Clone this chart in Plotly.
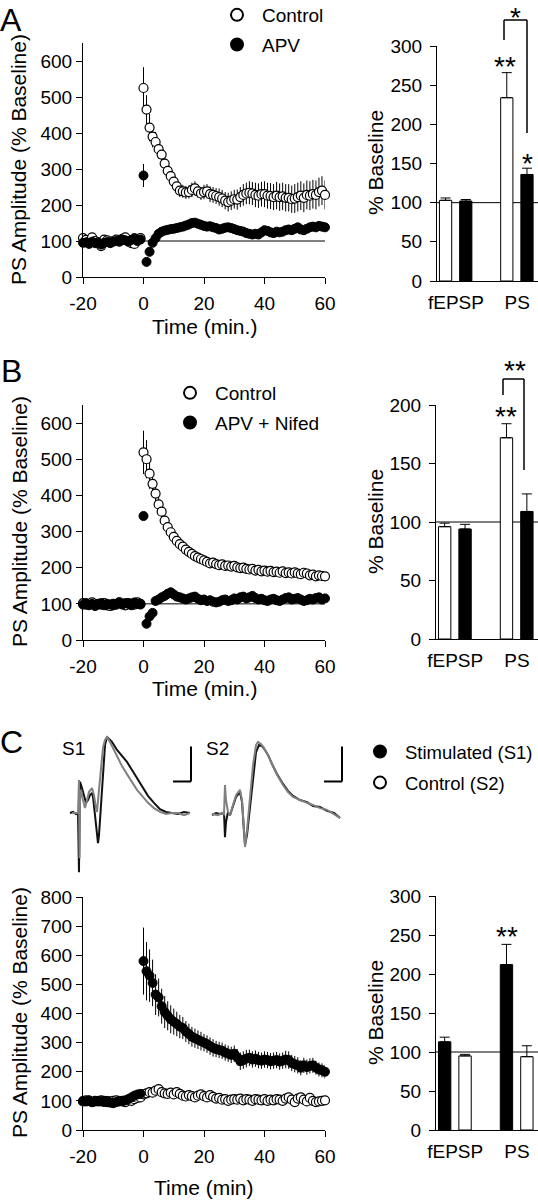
import plotly.graph_objects as go

FONT = "Liberation Sans, Arial, Helvetica, sans-serif"
W, H = 538, 1200

# ---------------- data ----------------
time_min = list(range(-20, 61))  # sample times (min)
time_ticks = [-20, 0, 20, 40, 60]
time_ticktext = ["-20", "0", "20", "40", "60"]

# Panel A: PS amplitude (% baseline)
a_control = [108, 103, 98, 110, 100, 96, 86, 104, 102, 96, 100, 104, 98, 106, 110, 100, 94, 92, 104, 108,
             525, 465, 415, 390, 375, 355, 340, 315, 295, 280, 265, 252, 240, 238, 235, 236, 242, 246, 238, 232,
             236, 238, 230, 228, 225, 222, 218, 212, 208, 212, 216, 215, 222, 228, 232, 234, 232, 228, 226, 230,
             230, 226, 225, 222, 226, 222, 224, 220, 220, 216, 218, 222, 226, 220, 228, 226, 230, 228, 236, 240, 228]
a_control_err = [6, 5, 7, 6, 5, 6, 8, 6, 5, 6, 7, 6, 5, 6, 7, 6, 5, 6, 7, 6,
                 58, 40, 38, 30, 28, 26, 25, 24, 22, 22, 20, 20, 18, 18, 18, 18, 20, 20, 18, 18,
                 20, 20, 22, 22, 22, 24, 24, 24, 26, 26, 26, 28, 28, 30, 30, 32, 32, 34, 34, 34,
                 36, 36, 36, 36, 38, 38, 38, 38, 38, 38, 40, 40, 40, 40, 40, 40, 40, 40, 40, 40, 40]
a_apv = [95, 96, 92, 98, 94, 96, 90, 95, 97, 94, 98, 100, 99, 104, 102, 98, 103, 108, 100, 104,
         282, 42, 70, 95, 108, 120, 126, 129, 131, 133, 134, 136, 138, 140, 143, 146, 150, 151, 148, 145,
         142, 140, 141, 138, 136, 132, 134, 137, 138, 136, 133, 130, 128, 126, 122, 120, 118, 120, 118, 124,
         130, 128, 124, 122, 126, 124, 126, 130, 132, 130, 134, 138, 132, 130, 134, 138, 140, 138, 142, 140, 138]
a_apv_err = [5, 6, 5, 4, 6, 5, 6, 5, 4, 5, 6, 5, 4, 5, 6, 5, 6, 5, 4, 6,
             32, 8, 8, 7, 7, 6, 6, 6, 7, 7, 7, 8, 8, 8, 8, 8, 9, 9, 9, 8,
             8, 8, 8, 8, 8, 8, 8, 8, 9, 9, 9, 9, 9, 9, 9, 9, 9, 9, 9, 9,
             9, 9, 9, 9, 9, 9, 9, 9, 9, 9, 9, 9, 9, 9, 9, 9, 9, 9, 9, 9, 9]

# Panel B
b_control = [102, 98, 100, 104, 96, 100, 98, 102, 96, 94, 100, 98, 104, 100, 96, 102, 100, 98, 104, 100,
             519, 500, 460, 432, 405, 375, 355, 330, 312, 298, 285, 274, 265, 258, 250, 244, 238, 232, 228, 224,
             220, 216, 212, 214, 210, 207, 209, 205, 206, 203, 205, 201, 199, 200, 197, 195, 197, 192, 194, 190,
             192, 189, 191, 188, 189, 186, 190, 185, 187, 184, 187, 184, 182, 186, 184, 179, 181, 176, 179, 177, 176]
b_control_err = [5, 6, 4, 5, 6, 5, 4, 6, 5, 5, 6, 4, 5, 6, 5, 5, 4, 6, 5, 5,
                 60, 53, 42, 36, 32, 28, 26, 24, 22, 20, 18, 16, 15, 14, 14, 13, 12, 12, 11, 11,
                 10, 10, 10, 10, 9, 9, 9, 9, 9, 8, 8, 8, 8, 8, 8, 8, 8, 8, 8, 8,
                 8, 8, 8, 8, 8, 8, 8, 8, 8, 8, 8, 8, 8, 8, 8, 8, 8, 8, 8, 8, 8]
b_nifed = [98, 102, 96, 100, 94, 98, 102, 96, 100, 98, 96, 100, 104, 98, 102, 100, 96, 104, 100, 98,
           343, 45, 65, 75, 108, 112, 118, 122, 128, 132, 126, 120, 118, 115, 112, 115, 118, 120, 114, 110,
           112, 108, 110, 106, 104, 106, 110, 112, 108, 110, 115, 112, 118, 120, 115, 118, 122, 116, 112, 114,
           110, 108, 112, 114, 110, 108, 112, 116, 118, 112, 114, 116, 112, 108, 110, 114, 112, 116, 118, 112, 115]
b_nifed_err = [6, 5, 6, 5, 6, 5, 6, 5, 6, 5, 6, 5, 6, 5, 6, 5, 6, 5, 6, 5,
               8, 6, 6, 6, 6, 6, 7, 7, 7, 7, 7, 7, 7, 7, 7, 8, 8, 8, 8, 8,
               8, 8, 8, 8, 8, 8, 8, 8, 8, 8, 8, 8, 8, 8, 12, 8, 8, 8, 8, 8,
               8, 8, 8, 8, 8, 8, 8, 8, 8, 8, 8, 8, 8, 8, 8, 8, 8, 8, 8, 8, 10]

# Panel C
c_stim = [100, 98, 102, 96, 98, 100, 98, 96, 100, 94, 92, 96, 100, 98, 102, 106, 112, 118, 122, 124,
          580, 545, 530, 505, 465, 455, 425, 405, 392, 380, 372, 364, 355, 350, 338, 330, 320, 315, 310, 305,
          300, 295, 288, 282, 278, 275, 272, 266, 262, 258, 262, 250, 236, 240, 245, 248, 242, 245, 240, 238,
          242, 240, 236, 238, 240, 235, 238, 242, 240, 230, 226, 222, 214, 222, 216, 220, 222, 214, 208, 205, 200]
c_stim_err = [8, 7, 8, 9, 8, 7, 8, 9, 8, 7, 8, 9, 8, 7, 8, 9, 10, 10, 10, 10,
              115, 100, 90, 80, 70, 65, 60, 55, 50, 48, 45, 42, 40, 38, 36, 35, 34, 33, 32, 32,
              30, 30, 30, 30, 28, 28, 28, 28, 28, 28, 28, 28, 30, 30, 30, 28, 28, 28, 28, 28,
              28, 28, 28, 28, 28, 28, 28, 30, 30, 28, 28, 28, 26, 26, 26, 26, 26, 24, 24, 24, 24]
c_ctrl = [98, 102, 100, 96, 100, 98, 102, 100, 96, 98, 100, 102, 98, 100, 96, 104, 100, 106, 110, 112,
          122, 126, 130, 128, 135, 140, 130, 126, 124, 128, 122, 130, 124, 118, 115, 120, 116, 112, 118, 122,
          116, 112, 120, 114, 108, 110, 104, 106, 100, 104, 106, 104, 108, 102, 106, 104, 100, 106, 104, 102,
          106, 100, 104, 102, 106, 104, 100, 108, 112, 104, 96, 108, 112, 104, 98, 110, 100, 96, 98, 100, 102]
c_ctrl_err = [6, 5, 6, 5, 6, 5, 6, 5, 6, 5, 6, 5, 6, 5, 6, 5, 6, 5, 6, 5,
              7, 7, 7, 7, 7, 7, 7, 7, 7, 7, 7, 7, 7, 7, 7, 7, 7, 7, 7, 7,
              7, 7, 7, 7, 7, 7, 7, 7, 7, 7, 7, 7, 7, 7, 7, 7, 7, 7, 7, 7,
              7, 7, 7, 7, 7, 7, 7, 7, 7, 7, 8, 8, 8, 8, 8, 8, 8, 8, 8, 8, 8]

for s in (a_control, a_control_err, a_apv, a_apv_err, b_control, b_control_err, b_nifed, b_nifed_err,
          c_stim, c_stim_err, c_ctrl, c_ctrl_err):
    assert len(s) == len(time_min), len(s)

# Bar summaries (mean, SEM)
bar_cats = ["fEPSP", "PS"]
a_bar_control, a_bar_control_err = [103, 234], [3, 32]
a_bar_apv, a_bar_apv_err = [102, 136], [2, 8]
b_bar_control, b_bar_control_err = [96, 172], [3, 12]
b_bar_nifed, b_bar_nifed_err = [94, 109], [4, 15]
c_bar_stim, c_bar_stim_err = [113, 212], [6, 26]
c_bar_ctrl, c_bar_ctrl_err = [95, 94], [2, 14]

# Example field potential traces (ms, mV)
s1_black_t = [0.83, 1.33, 1.83, 2.17, 2.33, 2.42, 2.5, 2.83, 3.17, 3.5, 3.83, 4.17, 4.5, 4.67, 5.0, 5.33, 5.5, 5.67,
              6.0, 6.33, 6.67, 7.0, 7.83, 8.67, 9.5, 10.33, 11.17, 12.0, 13.0, 13.83, 14.83, 15.83, 16.83, 17.83,
              18.83, 19.83, 20.83]
s1_black_v = [0, 0.03, -0.03, 0, -1.69, 0.37, 0.89, 0.71, 0.49, 0.29, 0.37, 0.51, 0.57, 0.46, -0.06, -0.63, -0.86,
              -0.63, 0.23, 1.23, 1.94, 2.17, 2.03, 1.8, 1.63, 1.46, 1.23, 1.0, 0.71, 0.49, 0.29, 0.11, 0.03, 0,
              -0.03, 0.03, 0]
s1_gray_t = [1.17, 1.83, 2.17, 2.33, 2.42, 2.5, 2.67, 3.0, 3.33, 3.67, 4.0, 4.5, 4.83, 5.17, 5.33, 5.67, 6.0, 6.33,
             6.67, 7.0, 7.5, 8.17, 8.83, 9.5, 10.33, 11.17, 12.0, 13.0, 13.83, 14.83, 15.83, 16.83, 17.83, 18.83,
             19.83, 20.83]
s1_gray_v = [0, 0, 0, 0.94, -1.29, 0.37, 0.66, 0.37, 0.14, 0.37, 0.6, 0.71, 0.51, 0.14, 0.03, 0.66, 1.37, 1.86,
             2.09, 2.17, 2.03, 1.8, 1.57, 1.34, 1.11, 0.89, 0.66, 0.46, 0.29, 0.14, 0.03, -0.03, 0, 0, -0.06, 0]
s2_black_t = [1.17, 1.83, 2.5, 3.17, 3.33, 3.5, 3.83, 4.17, 4.67, 5.17, 5.83, 6.17, 6.5, 6.67, 7.0, 7.5, 8.0, 8.5,
              9.0, 9.5, 10.0, 10.5, 11.17, 12.0, 13.0, 13.83, 14.67, 15.83, 17.0, 18.0, 19.17, 20.33, 21.5, 22.5]
s2_black_v = [-0.06, 0, -0.03, 0, -0.69, -0.26, 0.03, -0.06, 0.2, 0.46, 0.6, 0.31, -0.54, -0.91, -0.63, 0.23, 1.09,
              1.74, 1.94, 1.91, 1.8, 1.66, 1.4, 1.11, 0.83, 0.63, 0.49, 0.37, 0.31, 0.2, 0.17, 0.06, 0, -0.14]
s2_gray_t = [1.17, 2.17, 2.83, 3.17, 3.33, 3.5, 3.83, 4.17, 4.67, 5.17, 5.83, 6.17, 6.5, 6.67, 7.0, 7.5, 8.0, 8.5,
             8.83, 9.33, 9.83, 10.33, 11.17, 12.0, 13.0, 13.83, 14.67, 15.83, 17.0, 18.0, 19.17, 20.33, 21.5, 22.5]
s2_gray_v = [-0.03, -0.06, 0, -0.03, 0.8, 0.37, 0.03, -0.06, 0.23, 0.51, 0.66, 0.37, -0.49, -0.97, -0.49, 0.51,
             1.37, 1.94, 2.03, 1.97, 1.86, 1.71, 1.4, 1.09, 0.8, 0.6, 0.46, 0.37, 0.29, 0.23, 0.14, 0.09, -0.03, -0.14]
scale_ms, scale_mv = 3, 1

# ---------------- helpers ----------------
def pxx(px):
    return px / W

def pxy(py):
    return 1 - py / H

fig = go.Figure()


def series(y, err, filled, ax, name, legend, rank):
    fig.add_trace(go.Scatter(
        x=time_min, y=y, mode="markers", name=name,
        marker=dict(symbol="circle", size=9, color="black" if filled else "white",
                    line=dict(color="black", width=1 if filled else 1.2)),
        error_y=dict(type="data", array=err, visible=True, color="black", thickness=1, width=0),
        xaxis="x" + ax, yaxis="y" + ax, cliponaxis=False,
        legend=legend, legendgroup=legend + name, legendrank=rank, showlegend=True,
    ))


def bars(vals, errs, filled, offset, ax):
    fig.add_trace(go.Bar(
        x=bar_cats, y=vals, width=0.2, offset=offset,
        marker=dict(color="black" if filled else "white", line=dict(color="black", width=1)),
        error_y=dict(type="data", array=errs, arrayminus=[0] * len(errs), symmetric=False,
                     color="black", thickness=1, width=5),
        xaxis="x" + ax, yaxis="y" + ax, showlegend=False,
    ))


# A
series(a_control, a_control_err, False, "", "Control", "legend", 1)
series(a_apv, a_apv_err, True, "", "APV", "legend", 2)
bars(a_bar_control, a_bar_control_err, False, -0.27, "2")
bars(a_bar_apv, a_bar_apv_err, True, 0.06, "2")
# B
series(b_control, b_control_err, False, "3", "Control", "legend2", 1)
series(b_nifed, b_nifed_err, True, "3", "APV + Nifed", "legend2", 2)
bars(b_bar_control, b_bar_control_err, False, -0.27, "4")
bars(b_bar_nifed, b_bar_nifed_err, True, 0.06, "4")
# C
series(c_ctrl, c_ctrl_err, False, "5", "Control (S2)", "legend3", 2)
series(c_stim, c_stim_err, True, "5", "Stimulated (S1)", "legend3", 1)
bars(c_bar_stim, c_bar_stim_err, True, -0.27, "6")
bars(c_bar_ctrl, c_bar_ctrl_err, False, 0.06, "6")

# example traces
for t, v, col, ax in ((s1_black_t, s1_black_v, "#111111", "7"), (s1_gray_t, s1_gray_v, "#808080", "7"),
                      (s2_black_t, s2_black_v, "#111111", "8"), (s2_gray_t, s2_gray_v, "#808080", "8")):
    fig.add_trace(go.Scatter(x=t, y=v, mode="lines", line=dict(color=col, width=2),
                             xaxis="x" + ax, yaxis="y" + ax, showlegend=False))

# ---------------- axes ----------------
tickfont = dict(family=FONT, size=19, color="black")
common = dict(showline=True, linecolor="black", linewidth=1, showgrid=False, zeroline=False,
              tickfont=tickfont, fixedrange=True, automargin=False)


def time_axes(xn, xdom, ydom, yrange, yticks):
    fig.layout["xaxis" + xn] = dict(common, domain=[pxx(xdom[0]), pxx(xdom[1])], anchor="y" + xn,
                                    range=[-20, 60], tickvals=time_ticks, ticktext=time_ticktext,
                                    ticks="outside", ticklen=6, tickcolor="black", ticklabelstandoff=3)
    fig.layout["yaxis" + xn] = dict(common, domain=[pxy(ydom[1]), pxy(ydom[0])], anchor="x" + xn,
                                    range=yrange, tickvals=yticks, ticks="outside", ticklen=6,
                                    tickcolor="black")


def bar_axes(xn, xdom, ydom, yrange, yticks):
    fig.layout["xaxis" + xn] = dict(common, domain=[pxx(xdom[0]), pxx(xdom[1])], anchor="y" + xn,
                                    type="category", categoryorder="array", categoryarray=bar_cats,
                                    range=[-0.31, 1.34], ticks="outside", ticklen=4,
                                    tickcolor="rgba(0,0,0,0)")
    fig.layout["yaxis" + xn] = dict(common, domain=[pxy(ydom[1]), pxy(ydom[0])], anchor="x" + xn,
                                    range=yrange, tickvals=yticks, ticks="outside", ticklen=6,
                                    tickcolor="black", ticklabelstandoff=4)


time_axes("", (83, 325), (43, 277), [0, 650], [0, 100, 200, 300, 400, 500, 600])
bar_axes("2", (437, 538), (46, 281), [0, 300], [0, 50, 100, 150, 200, 250, 300])
time_axes("3", (83, 325), (405, 640), [0, 650], [0, 100, 200, 300, 400, 500, 600])
bar_axes("4", (436, 538), (405, 639), [0, 200], [0, 50, 100, 150, 200])
time_axes("5", (83, 325), (897, 1130), [0, 800], [0, 100, 200, 300, 400, 500, 600, 700, 800])
bar_axes("6", (436, 538), (896, 1130), [0, 300], [0, 50, 100, 150, 200, 250, 300])

for xn, xdom, xr in (("7", (65, 195), [0, 21.67]), ("8", (205, 345), [0, 23.33])):
    fig.layout["xaxis" + xn] = dict(domain=[pxx(xdom[0]), pxx(xdom[1])], anchor="y" + xn, range=xr,
                                    visible=False, fixedrange=True, automargin=False)
    fig.layout["yaxis" + xn] = dict(domain=[pxy(880), pxy(730)], anchor="x" + xn, range=[-1.914, 2.371],
                                    visible=False, fixedrange=True, automargin=False)

# ---------------- shapes ----------------
shapes = []
for xa, ya in (("x", "y"), ("x3", "y3")):
    shapes.append(dict(type="line", xref=xa, yref=ya, x0=0, x1=60, y0=100, y1=100,
                       line=dict(color="black", width=1), layer="below"))
for n in ("2", "4", "6"):
    shapes.append(dict(type="line", xref="x" + n + " domain", yref="y" + n, x0=0, x1=1, y0=100, y1=100,
                       line=dict(color="black", width=1), layer="below"))


def pline(x0, y0, x1, y1, w=1.5):
    shapes.append(dict(type="line", xref="paper", yref="paper", x0=pxx(x0), x1=pxx(x1),
                       y0=pxy(y0), y1=pxy(y1), line=dict(color="black", width=w)))


# significance brackets
pline(504, 40, 504, 20); pline(504, 20, 527, 20); pline(527, 20, 527, 133)
pline(503, 395, 503, 379); pline(503, 379, 524, 379); pline(524, 379, 524, 470)

# scale bars
for xa, ya, xend in (("x7", "y7", 21.0), ("x8", "y8", 22.83)):
    shapes.append(dict(type="line", xref=xa, yref=ya, x0=xend - scale_ms, x1=xend, y0=0.9, y1=0.9,
                       line=dict(color="black", width=2)))
    shapes.append(dict(type="line", xref=xa, yref=ya, x0=xend, x1=xend, y0=0.9, y1=0.9 + scale_mv,
                       line=dict(color="black", width=2)))

# ---------------- annotations ----------------
ann = []


def text(s, px, py, size, angle=0, xanchor="center", yanchor="middle"):
    ann.append(dict(text=s, x=pxx(px), y=pxy(py), xref="paper", yref="paper", showarrow=False,
                    xanchor=xanchor, yanchor=yanchor, textangle=angle,
                    font=dict(family=FONT, size=size, color="black")))


text("A", 11, 0, 32, yanchor="top")
text("B", 11, 371, 32)
text("C", 11, 742, 32)
for ycen in (160, 522, 1013):
    text("PS Amplitude (% Baseline)", 19, ycen, 21, angle=-90)
text("Time (min.)", 204, 327, 21)
text("Time (min.)", 204, 688, 21)
text("Time (min)", 204, 1187, 21)
for ycen in (163, 522, 1013):
    text("% Baseline", 375, ycen, 21, angle=-90)
text("S1", 73, 748, 19)
text("S2", 218, 748, 19)
# significance stars
text("*", 515, 0, 28, yanchor="top")
text("**", 505, 67, 28)
text("*", 527, 163, 28)
text("**", 515, 370, 28)
text("**", 506, 417, 28)
text("**", 507, 936, 28)


def legend_cfg(px, py, gap, size=19):
    return dict(x=pxx(px), y=pxy(py), xanchor="left", yanchor="top",
                font=dict(family=FONT, size=size, color="black"), bgcolor="rgba(0,0,0,0)",
                borderwidth=0, itemsizing="constant", tracegroupgap=gap, itemwidth=40)


fig.update_layout(
    width=W, height=H, autosize=False,
    margin=dict(l=0, r=0, t=0, b=0, pad=0, autoexpand=False),
    paper_bgcolor="white", plot_bgcolor="white",
    font=dict(family=FONT, color="black"),
    barmode="overlay",
    showlegend=True,
    legend=legend_cfg(212, -4, 2),
    legend2=legend_cfg(165, 374, 2),
    legend3=legend_cfg(355, 733, 4, size=18.5),
    shapes=shapes, annotations=ann,
)

fig.write_html(
    "out.html",
    config={"displayModeBar": False, "staticPlot": True},
    post_script=("document.documentElement.style.margin='0';document.documentElement.style.overflow='hidden';"
                 "document.body.style.margin='0';document.body.style.padding='0';"
                 "document.body.style.overflow='hidden';"),
)
